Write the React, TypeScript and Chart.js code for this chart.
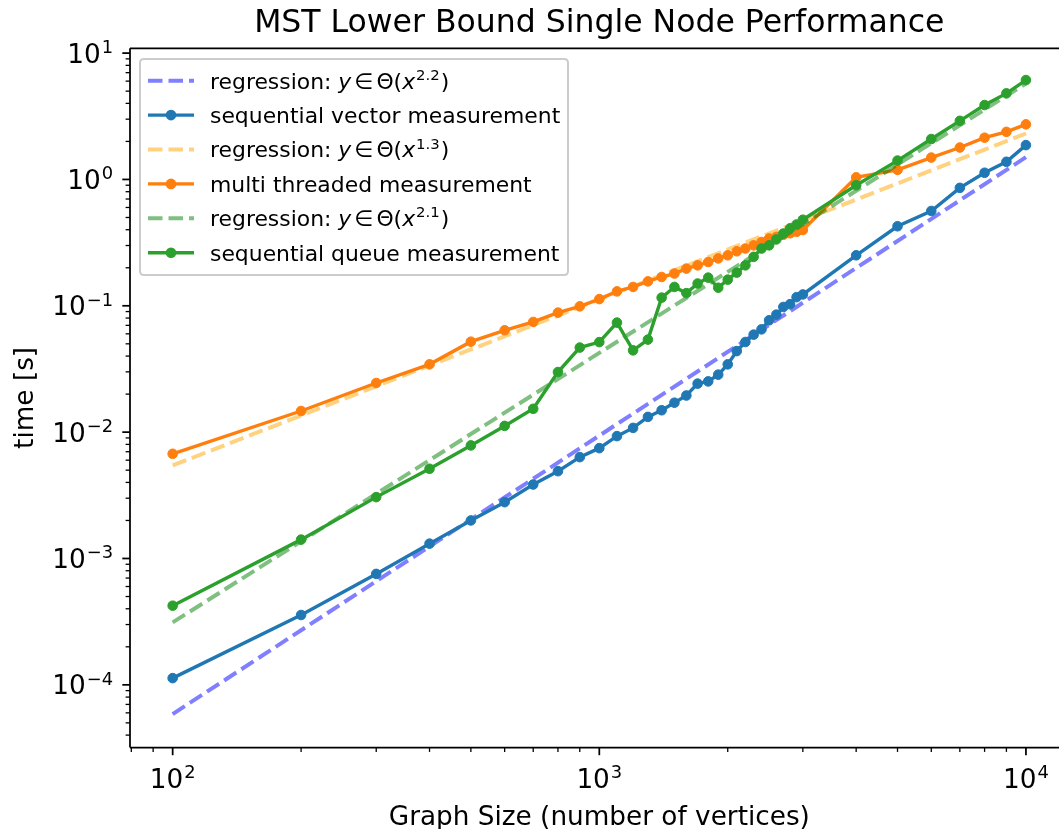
import React, { useEffect, useRef } from "react";
import { Chart, registerables } from "chart.js";

Chart.register(...registerables);

// ---------------- data ----------------
const SIZES = [
  100, 200, 300, 400, 500, 600, 700, 800, 900, 1000,
  1100, 1200, 1300, 1400, 1500, 1600, 1700, 1800, 1900, 2000,
  2100, 2200, 2300, 2400, 2500, 2600, 2700, 2800, 2900, 3000,
  4000, 5000, 6000, 7000, 8000, 9000, 10000,
];

const SEQ_VECTOR = [
  1.13e-4, 3.57e-4, 7.55e-4, 1.31e-3, 2.0e-3, 2.79e-3, 3.85e-3, 4.91e-3, 6.34e-3, 7.47e-3,
  9.3e-3, 1.08e-2, 1.32e-2, 1.49e-2, 1.71e-2, 1.95e-2, 2.42e-2, 2.52e-2, 2.85e-2, 3.44e-2,
  4.38e-2, 5.17e-2, 5.91e-2, 6.51e-2, 7.68e-2, 8.51e-2, 9.79e-2, 0.103, 0.117, 0.123,
  0.251, 0.426, 0.563, 0.858, 1.13, 1.38, 1.87,
];

const MULTI = [
  6.74e-3, 1.47e-2, 2.45e-2, 3.44e-2, 5.2e-2, 6.4e-2, 7.45e-2, 8.83e-2, 0.099, 0.113,
  0.13, 0.141, 0.156, 0.169, 0.18, 0.197, 0.209, 0.222, 0.237, 0.251,
  0.27, 0.284, 0.301, 0.32, 0.341, 0.351, 0.365, 0.375, 0.385, 0.398,
  1.04, 1.19, 1.49, 1.79, 2.14, 2.38, 2.73,
];

const SEQ_QUEUE = [
  4.23e-4, 1.41e-3, 3.06e-3, 5.13e-3, 7.85e-3, 1.12e-2, 1.53e-2, 2.99e-2, 4.67e-2, 5.16e-2,
  0.0736, 0.0444, 0.054, 0.116, 0.141, 0.126, 0.15, 0.167, 0.139, 0.161,
  0.183, 0.209, 0.244, 0.284, 0.301, 0.335, 0.373, 0.41, 0.44, 0.48,
  0.9, 1.41, 2.09, 2.91, 3.88, 4.8, 6.12,
];

const REG_X = [100, 10000];
const REG_VECTOR = [5.87e-5, 1.5];
const REG_MULTI = [5.45e-3, 2.31];
const REG_QUEUE = [3.12e-4, 5.75];

const REG_EXPONENTS = ["2.2", "1.3", "2.1"];
const LABELS = [
  "sequential vector measurement",
  "multi threaded measurement",
  "sequential queue measurement",
];

const X_MAJOR = [100, 1000, 10000];
const X_MAJOR_EXP = ["2", "3", "4"];
const Y_MAJOR = [1e-4, 1e-3, 1e-2, 1e-1, 1, 10];
const Y_MAJOR_EXP = ["\u22124", "\u22123", "\u22122", "\u22121", "0", "1"];

const TITLE = "MST Lower Bound Single Node Performance";
const X_LABEL = "Graph Size (number of vertices)";
const Y_LABEL = "time [s]";

// ---------------- styling ----------------
const BLUE = "#1f77b4";
const ORANGE = "#ff7f0e";
const GREEN = "#2ca02c";
const REG_BLUE = "rgba(0,0,255,0.5)";
const REG_ORANGE = "rgba(255,165,0,0.5)";
const REG_GREEN = "rgba(0,128,0,0.5)";

const FONT = '"DejaVu Sans", sans-serif';
const FS_TICK = 26.3;
const FS_LEG = 21.9;
const FS_XLAB = 26.3;
const FS_YLAB = 26.3;
const FS_TITLE = 31.5;
const DASH = [14.5, 6];

const VIEW_W = 1059;
const W = 1080;
const H = 829;
const AREA = { left: 130, right: 1068.6, top: 48.3, bottom: 747.5 };

type Part = { t: string; it?: boolean; sup?: boolean; gap?: number };

function partFont(p: Part, size: number) {
  return `${p.it ? "italic " : ""}${p.sup ? size * 0.68 : size}px ${FONT}`;
}

function mathWidth(ctx: CanvasRenderingContext2D, parts: Part[], size: number) {
  let w = 0;
  for (const p of parts) {
    ctx.font = partFont(p, size);
    w += (p.gap || 0) + ctx.measureText(p.t).width;
  }
  return w;
}

function drawMath(
  ctx: CanvasRenderingContext2D,
  parts: Part[],
  x: number,
  baseline: number,
  size: number,
  align: "left" | "center" | "right",
  raise: number
) {
  const w = mathWidth(ctx, parts, size);
  let cx = align === "center" ? x - w / 2 : align === "right" ? x - w : x;
  ctx.textAlign = "left";
  ctx.textBaseline = "alphabetic";
  for (const p of parts) {
    ctx.font = partFont(p, size);
    cx += p.gap || 0;
    ctx.fillText(p.t, cx, p.sup ? baseline - size * raise : baseline);
    cx += ctx.measureText(p.t).width;
  }
}

function line(ctx: CanvasRenderingContext2D, x1: number, y1: number, x2: number, y2: number) {
  ctx.beginPath();
  ctx.moveTo(x1, y1);
  ctx.lineTo(x2, y2);
  ctx.stroke();
}

const decorPlugin = {
  id: "mplDecor",
  afterDraw(chart: any) {
    const ctx: CanvasRenderingContext2D = chart.ctx;
    const a = chart.chartArea;
    const xs = chart.scales.x;
    const ys = chart.scales.y;
    ctx.save();
    ctx.fillStyle = "#000";
    ctx.strokeStyle = "#000";

    // spines
    ctx.lineWidth = 1.75;
    line(ctx, a.left, a.top, a.left, a.bottom);
    line(ctx, a.left, a.bottom, a.right, a.bottom);
    line(ctx, a.left, a.top, a.right, a.top);
    line(ctx, a.right, a.top, a.right, a.bottom);

    // ticks
    const drawXTick = (v: number, len: number, lw: number) => {
      const px = xs.getPixelForValue(v);
      if (px < a.left - 0.5 || px > a.right + 0.5) return;
      ctx.lineWidth = lw;
      line(ctx, px, a.bottom, px, a.bottom + len);
    };
    const drawYTick = (v: number, len: number, lw: number) => {
      const py = ys.getPixelForValue(v);
      if (py < a.top - 0.5 || py > a.bottom + 0.5) return;
      ctx.lineWidth = lw;
      line(ctx, a.left, py, a.left - len, py);
    };
    for (let d = 1; d <= 4; d++) {
      for (let k = 2; k <= 9; k++) drawXTick(k * Math.pow(10, d), 4.4, 1.3);
    }
    for (let d = -5; d <= 1; d++) {
      for (let k = 2; k <= 9; k++) drawYTick(k * Math.pow(10, d), 4.4, 1.3);
    }
    X_MAJOR.forEach((v) => drawXTick(v, 7.7, 1.75));
    Y_MAJOR.forEach((v) => drawYTick(v, 7.7, 1.75));

    // tick labels
    X_MAJOR.forEach((v, i) => {
      const px = xs.getPixelForValue(v);
      drawMath(ctx, [{ t: "10" }, { t: X_MAJOR_EXP[i], sup: true, gap: 1 }], px, 787.7, FS_TICK, "center", 0.37);
    });
    Y_MAJOR.forEach((v, i) => {
      const py = ys.getPixelForValue(v);
      drawMath(ctx, [{ t: "10" }, { t: Y_MAJOR_EXP[i], sup: true, gap: 1 }], a.left - 17, py + 9.6, FS_TICK, "right", 0.37);
    });

    // axis labels
    const cxPlot = (a.left + a.right) / 2;
    ctx.font = `${FS_XLAB}px ${FONT}`;
    ctx.textAlign = "center";
    ctx.textBaseline = "alphabetic";
    ctx.fillText(X_LABEL, cxPlot, 825);
    ctx.save();
    ctx.font = `${FS_YLAB}px ${FONT}`;
    ctx.translate(26, (a.top + a.bottom) / 2);
    ctx.rotate(-Math.PI / 2);
    ctx.textBaseline = "middle";
    ctx.fillText(Y_LABEL, 0, 0);
    ctx.restore();

    // title
    ctx.font = `${FS_TITLE}px ${FONT}`;
    ctx.textAlign = "center";
    ctx.textBaseline = "alphabetic";
    ctx.fillText(TITLE, cxPlot, 32);

    // legend
    const lx = 140, ly = 59, lw = 428, lh = 216, r = 4;
    ctx.beginPath();
    ctx.moveTo(lx + r, ly);
    ctx.lineTo(lx + lw - r, ly);
    ctx.quadraticCurveTo(lx + lw, ly, lx + lw, ly + r);
    ctx.lineTo(lx + lw, ly + lh - r);
    ctx.quadraticCurveTo(lx + lw, ly + lh, lx + lw - r, ly + lh);
    ctx.lineTo(lx + r, ly + lh);
    ctx.quadraticCurveTo(lx, ly + lh, lx, ly + lh - r);
    ctx.lineTo(lx, ly + r);
    ctx.quadraticCurveTo(lx, ly, lx + r, ly);
    ctx.closePath();
    ctx.fillStyle = "rgba(255,255,255,0.8)";
    ctx.fill();
    ctx.strokeStyle = "#cccccc";
    ctx.lineWidth = 2;
    ctx.stroke();

    const ds = chart.data.datasets;
    for (let i = 0; i < ds.length; i++) {
      const d = ds[i];
      const cy = 80.7 + i * 34.4;
      ctx.save();
      ctx.strokeStyle = d.borderColor;
      ctx.lineWidth = d.borderWidth;
      ctx.setLineDash(d.borderDash || []);
      line(ctx, 148, cy, 194, cy);
      ctx.setLineDash([]);
      if (d.pointRadius > 0) {
        ctx.fillStyle = d.borderColor;
        ctx.beginPath();
        ctx.arc(171, cy, d.pointRadius + 0.5, 0, Math.PI * 2);
        ctx.fill();
      }
      ctx.restore();
      ctx.fillStyle = "#000";
      if (d.regExp) {
        drawMath(
          ctx,
          [
            { t: "regression: " },
            { t: "y", it: true },
            { t: "\u2208", gap: 3 },
            { t: "\u0398(", gap: 3 },
            { t: "x", it: true },
            { t: d.regExp, sup: true, gap: 1 },
            { t: ")", gap: 1 },
          ],
          210,
          cy + 7.8,
          FS_LEG,
          "left",
          0.4
        );
      } else {
        ctx.font = `${FS_LEG}px ${FONT}`;
        ctx.textAlign = "left";
        ctx.textBaseline = "alphabetic";
        ctx.fillText(d.label, 210, cy + 7.8);
      }
    }
    ctx.restore();
  },
};

function pts(xs: number[], ys: number[]) {
  return xs.map((x, i) => ({ x, y: ys[i] }));
}

export default function App() {
  const ref = useRef<HTMLCanvasElement | null>(null);
  useEffect(() => {
    if (!ref.current) return;
    const regStyle = (color: string, exp: string, order: number) => ({
      borderColor: color,
      backgroundColor: color,
      borderWidth: 4,
      borderDash: DASH,
      pointRadius: 0,
      showLine: true,
      order,
      regExp: exp,
    });
    const measStyle = (color: string, order: number) => ({
      borderColor: color,
      backgroundColor: color,
      borderWidth: 3.4,
      pointRadius: 4.8,
      pointBorderWidth: 1,
      pointBackgroundColor: color,
      pointBorderColor: color,
      showLine: true,
      order,
    });
    const chart = new Chart(ref.current, {
      type: "scatter",
      data: {
        datasets: [
          { label: "reg1", data: pts(REG_X, REG_VECTOR), ...regStyle(REG_BLUE, REG_EXPONENTS[0], 5) } as any,
          { label: LABELS[0], data: pts(SIZES, SEQ_VECTOR), ...measStyle(BLUE, 4) },
          { label: "reg2", data: pts(REG_X, REG_MULTI), ...regStyle(REG_ORANGE, REG_EXPONENTS[1], 3) } as any,
          { label: LABELS[1], data: pts(SIZES, MULTI), ...measStyle(ORANGE, 2) },
          { label: "reg3", data: pts(REG_X, REG_QUEUE), ...regStyle(REG_GREEN, REG_EXPONENTS[2], 1) } as any,
          { label: LABELS[2], data: pts(SIZES, SEQ_QUEUE), ...measStyle(GREEN, 0) },
        ],
      },
      options: {
        responsive: false,
        animation: false,
        devicePixelRatio: 1,
        layout: {
          autoPadding: false,
          padding: {
            left: AREA.left,
            right: W - AREA.right,
            top: AREA.top,
            bottom: H - AREA.bottom,
          },
        },
        plugins: {
          legend: { display: false },
          title: { display: false },
          tooltip: { enabled: false },
        },
        elements: { line: { tension: 0 } },
        scales: {
          x: {
            type: "logarithmic",
            display: false,
            min: Math.pow(10, 1.9),
            max: Math.pow(10, 4.1),
            bounds: "data",
          },
          y: {
            type: "logarithmic",
            display: false,
            min: Math.pow(10, -4.496),
            max: Math.pow(10, 1.038),
            bounds: "data",
          },
        },
      },
      plugins: [decorPlugin],
    } as any);
    return () => chart.destroy();
  }, []);
  return (
    <div
      style={{
        position: "fixed",
        left: 0,
        top: 0,
        width: VIEW_W,
        height: H,
        overflow: "hidden",
        background: "#fff",
      }}
    >
      <canvas ref={ref} width={W} height={H} style={{ width: W, height: H, display: "block" }} />
    </div>
  );
}
